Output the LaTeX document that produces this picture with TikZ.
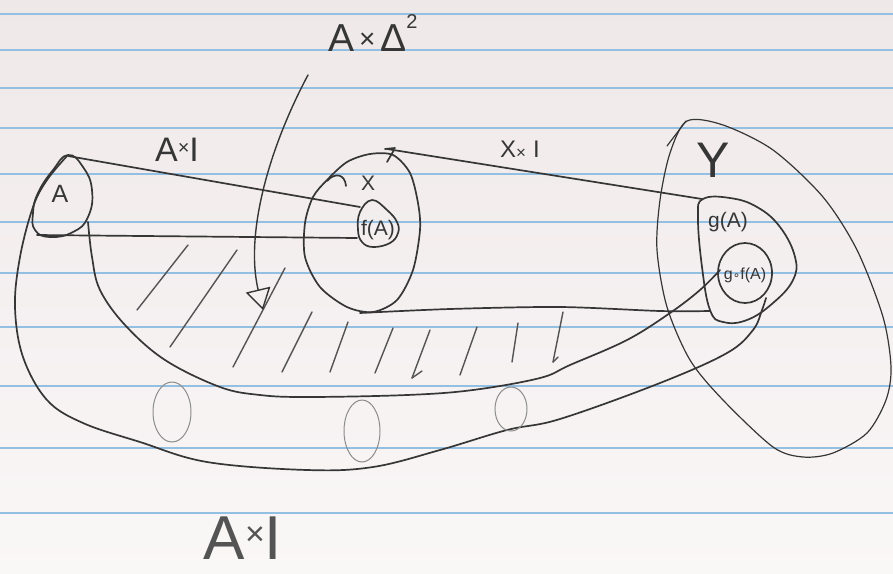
\documentclass[tikz,border=0pt]{standalone}
\usepackage{fontspec}
\setmainfont{Liberation Sans}
\newfontfamily\symfont{DejaVu Sans}
\usetikzlibrary{arrows.meta}
\definecolor{paper}{HTML}{EFE8E9}
\definecolor{paperlow}{HTML}{FAF7F7}
\definecolor{ruleblue}{HTML}{93BFE3}
\definecolor{ink}{HTML}{363636}
\definecolor{faint}{HTML}{8C8C8C}
\tikzset{
  pen/.style={draw=ink, line width=1.7pt, line cap=round, line join=round},
  thinpen/.style={draw=ink, line width=1.2pt, line cap=round},
  hatchpen/.style={draw=ink!85, line width=1.4pt, line cap=round},
  faintpen/.style={draw=faint, line width=1pt},
  lbl/.style={text=ink, inner sep=0pt},
}
\begin{document}
\begin{tikzpicture}[x=1pt,y=-1pt]
\useasboundingbox (0,0) rectangle (893,573);
\shade[top color=paper, bottom color=paperlow] (0,0) rectangle (893,573);
\foreach \yy in {14,50,88,128,174,222,273,327,386,448,513}
  \draw[ruleblue, line width=1.3pt] (0,\yy) -- (893,\yy);

% ---- named end points
\coordinate (Atop) at (68,156);
\coordinate (Abot) at (37,235);
\coordinate (fAtop) at (360,207);
\coordinate (fAbot) at (357,238);
\coordinate (Xtop) at (387,149);
\coordinate (Xbot) at (360,313);
\coordinate (gAtop) at (702,199);
\coordinate (gAbot) at (710,311);
\coordinate (arrS) at (308,75);
\coordinate (arrE) at (263,310);

% ---- A
\draw[pen] plot[smooth cycle, tension=0.8] coordinates {(68,155) (83,167) (92,190) (88,217) (73,232) (50,237) (35,230) (33,213) (38,193) (53,170)};

% ---- X
\draw[pen] plot[smooth cycle] coordinates {(327,180) (347,162) (370,154) (393,155) (410,173) (418,203) (420,230) (413,270) (397,300) (373,312) (347,307) (320,287) (305,257) (305,223) (313,197)};
\draw[pen] (327,181) .. controls (335,172) and (345,174) .. (346,186);
\draw[pen] (385,149) -- (395,148);
\draw[pen] (394,150) -- (387,162);

% ---- f(A)
\draw[pen] plot[smooth cycle, tension=0.7] coordinates {(372,200) (387,210) (397,222) (398,233) (390,243) (373,247) (362,242) (358,230) (360,212)};

% ---- g(A)
\draw[pen] plot[smooth cycle, tension=0.7] coordinates {(703,199) (730,198) (757,207) (780,227) (795,257) (793,280) (773,303) (747,320) (723,322) (710,310) (702,267) (698,217)};

% ---- g o f(A)
\draw[pen] (745,273) ellipse [x radius=27, y radius=30];

% ---- Y
\draw[thinpen] plot[smooth cycle] coordinates {(687,121) (723,125) (773,150) (823,197) (857,250) (883,317) (891,367) (886,400) (867,433) (833,453) (803,457) (773,447) (723,400) (690,360) (667,307) (657,250) (660,200) (670,153)};
\draw[thinpen] (667,146) -- (686,121);

% ---- A x I tube: outer and inner boundaries
\draw[pen] plot[smooth, tension=0.6] coordinates {(67,156) (47,180) (33,207) (20,257) (15,307) (23,357) (47,400) (83,423) (140,442) (207,462) (307,470) (373,467) (440,450) (507,430) (560,419) (660,383) (727,353) (753,330) (762,310) (766,298)};
\draw[pen] plot[smooth, tension=0.6] coordinates {(88,222) (92,257) (100,290) (125,325) (165,360) (220,387) (260,395) (307,397) (407,395) (473,390) (540,378) (570,365) (627,340) (670,313) (700,290) (720,270)};

% ---- connectors
\draw[pen] (Atop) -- (fAtop);
\draw[pen] (Abot) -- (fAbot);
\draw[pen] (Xtop) -- (gAtop);
\draw[pen] plot[smooth] coordinates {(Xbot) (450,309) (560,307) (660,311) (gAbot)};

% ---- hatching
\foreach \xa/\ya/\xb/\yb in {137/310/188/245, 170/347/237/250, 233/367/285/268, 282/372/312/312, 330/372/348/322, 375/373/393/328, 412/378/430/330, 460/375/477/327, 512/362/518/323, 553/362/563/312}
  \draw[hatchpen] (\xa,\ya) -- (\xb,\yb);
\draw[hatchpen] (412,378) -- (422,371);
\draw[hatchpen] (553,362) -- (558,357);

% ---- faint ovals
\draw[faintpen] (172,412) ellipse [x radius=19, y radius=30];
\draw[faintpen] (362,431) ellipse [x radius=18, y radius=31];
\draw[faintpen] (511,409) ellipse [x radius=16, y radius=22];

% ---- arrow
\draw[pen, line width=1.4pt, -{Triangle[open, length=21pt, width=25pt, line width=1.4pt]}] (arrS) .. controls (268,150) and (245,235) .. (arrE);

% ---- labels
\node[lbl] (lAD) at (373,33) {\fontsize{39}{42}\selectfont A\kern0.12em\raisebox{0.08em}{\fontsize{28}{30}\selectfont ×}\kern0.12em Δ\raisebox{0.6em}{\fontsize{20}{22}\selectfont 2}};
\node[lbl] (lAIt) at (177,150) {\fontsize{34}{40}\selectfont A\raisebox{0.2em}{\fontsize{20}{24}\selectfont ×}I};
\node[lbl] (lXI) at (520,150) {\fontsize{24}{28}\selectfont X\raisebox{-0.05em}{\fontsize{17}{20}\selectfont ×}\kern0.3em I};
\node[lbl] (lY) at (713,160) {\fontsize{50}{56}\selectfont Y};
\node[lbl] (lX) at (368,183) {\fontsize{21}{24}\selectfont X};
\node[lbl] (lA) at (60,194) {\fontsize{25}{28}\selectfont A};
\node[lbl] (lfA) at (378,230) {\fontsize{21}{23}\selectfont f(A)};
\node[lbl] (lgA) at (728,222) {\fontsize{21}{23}\selectfont g(A)};
\node[lbl] (lgfA) at (745,275) {\fontsize{16}{18}\selectfont g{\symfont\fontsize{12}{14}\selectfont ∘}f(A)};
\node[lbl, text=ink!85, anchor=base, text depth=0pt] (lAIb) at (243,559) {\fontsize{62}{66}\selectfont A\raisebox{0.22em}{\fontsize{34}{36}\selectfont ×}I};
\end{tikzpicture}
\end{document}
